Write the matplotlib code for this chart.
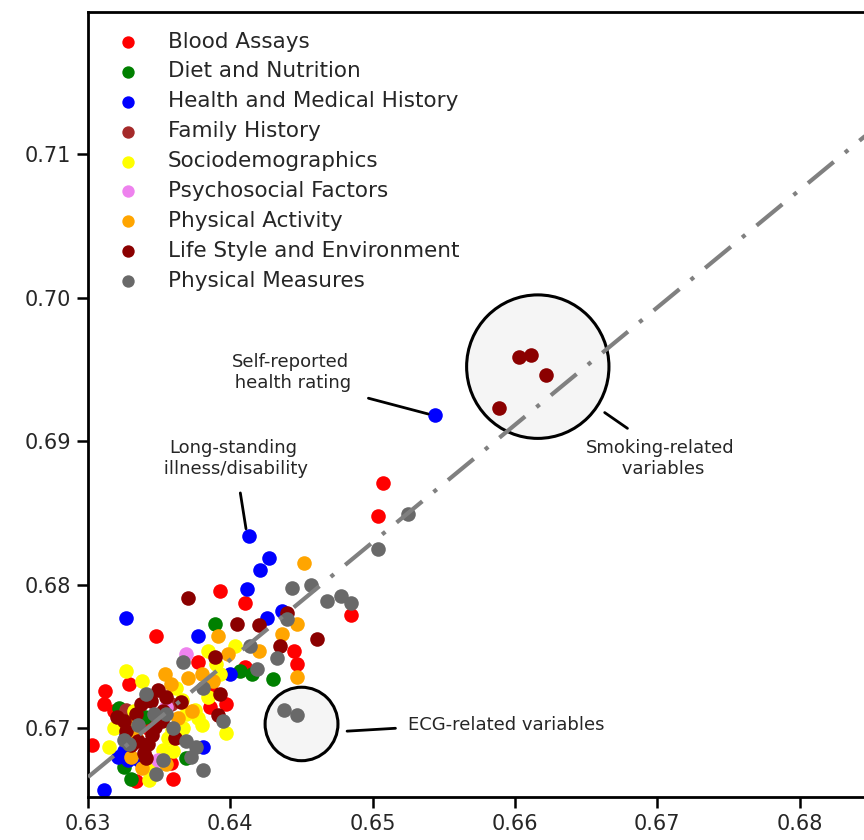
import matplotlib
matplotlib.use("Agg")
import matplotlib.pyplot as plt
from matplotlib.patches import Circle

# category -> (x values, y values)
blood_x = [0.6393, 0.6348, 0.6410, 0.6445, 0.6447, 0.6485, 0.6504, 0.6507, 0.6377, 0.6397,
           0.6386, 0.6312, 0.6311, 0.6329, 0.6303, 0.6334, 0.6410, 0.6358,
           0.6342, 0.6386, 0.6318, 0.6360]
blood_y = [0.6796, 0.6764, 0.6787, 0.6754, 0.6745, 0.6779, 0.6848, 0.6871, 0.6746, 0.6717,
           0.6715, 0.6726, 0.6717, 0.6731, 0.6688, 0.6663, 0.6743, 0.6676,
           0.6700, 0.6729, 0.6712, 0.6665]

diet_x = [0.6389, 0.6430, 0.6407, 0.6415, 0.6322, 0.6325, 0.6369, 0.6340, 0.6330]
diet_y = [0.6773, 0.6734, 0.6740, 0.6738, 0.6714, 0.6673, 0.6679, 0.6708, 0.6665]

health_x = [0.6544, 0.6413, 0.6427, 0.6421, 0.6412, 0.6426, 0.6436, 0.6327, 0.6377, 0.6400,
            0.6381, 0.6325, 0.6328, 0.6311, 0.6331, 0.6321, 0.6327, 0.6336]
health_y = [0.6918, 0.6834, 0.6819, 0.6810, 0.6797, 0.6777, 0.6782, 0.6777, 0.6764, 0.6738,
            0.6687, 0.6684, 0.6678, 0.6657, 0.6690, 0.6680, 0.6696, 0.6678]

family_x = [0.6327, 0.6358]
family_y = [0.6713, 0.6717]

socio_x = [0.6327, 0.6338, 0.6384, 0.6403, 0.6393, 0.6375, 0.6380, 0.6397, 0.6369, 0.6367,
           0.6315, 0.6353, 0.6360, 0.6359, 0.6377, 0.6342, 0.6343, 0.6366,
           0.6332, 0.6356, 0.6384, 0.6362, 0.6347, 0.6390, 0.6318]
socio_y = [0.6740, 0.6733, 0.6754, 0.6757, 0.6738, 0.6713, 0.6702, 0.6697, 0.6710, 0.6700,
           0.6687, 0.6685, 0.6684, 0.6699, 0.6707, 0.6673, 0.6664, 0.6720,
           0.6712, 0.6693, 0.6722, 0.6728, 0.6668, 0.6745, 0.6700]

psycho_x = [0.6369, 0.6349, 0.6355]
psycho_y = [0.6752, 0.6678, 0.6715]

activity_x = [0.6452, 0.6391, 0.6447, 0.6436, 0.6420, 0.6447, 0.6380, 0.6354, 0.6358, 0.6373,
              0.6363, 0.6338, 0.6388, 0.6334, 0.6329, 0.6343, 0.6370, 0.6355, 0.6330, 0.6398]
activity_y = [0.6815, 0.6764, 0.6773, 0.6766, 0.6754, 0.6736, 0.6738, 0.6738, 0.6731, 0.6712,
              0.6707, 0.6672, 0.6733, 0.6694, 0.6703, 0.6722, 0.6735, 0.6675, 0.6680, 0.6752]

life_x = [0.6603, 0.6611, 0.6622, 0.6589, 0.6370, 0.6405, 0.6420, 0.6440, 0.6461, 0.6435,
          0.6389, 0.6393, 0.6391, 0.6349, 0.6355, 0.6337, 0.6334, 0.6320, 0.6327, 0.6353,
          0.6361, 0.6339, 0.6342, 0.6335, 0.6344, 0.6347, 0.6341,
          0.6325, 0.6345, 0.6365, 0.6330, 0.6352]
life_y = [0.6959, 0.6960, 0.6946, 0.6923, 0.6791, 0.6773, 0.6772, 0.6780, 0.6762, 0.6757,
          0.6750, 0.6724, 0.6709, 0.6727, 0.6722, 0.6717, 0.6710, 0.6708, 0.6698, 0.6712,
          0.6693, 0.6683, 0.6689, 0.6691, 0.6719, 0.6701, 0.6679,
          0.6705, 0.6695, 0.6718, 0.6688, 0.6705]

measures_x = [0.6447, 0.6438, 0.6525, 0.6504, 0.6443, 0.6457, 0.6468, 0.6478, 0.6485, 0.6440,
              0.6433, 0.6419, 0.6414, 0.6367, 0.6381, 0.6341, 0.6346, 0.6329, 0.6369, 0.6376,
              0.6353, 0.6348, 0.6381, 0.6355, 0.6335, 0.6360, 0.6325, 0.6372, 0.6395]
measures_y = [0.6709, 0.6713, 0.6849, 0.6825, 0.6798, 0.6800, 0.6789, 0.6792, 0.6787, 0.6776,
              0.6749, 0.6741, 0.6757, 0.6746, 0.6728, 0.6724, 0.6710, 0.6689, 0.6691, 0.6687,
              0.6678, 0.6668, 0.6671, 0.6710, 0.6702, 0.6700, 0.6692, 0.6680, 0.6705]

groups = [
    ("Blood Assays", "red", blood_x, blood_y),
    ("Diet and Nutrition", "green", diet_x, diet_y),
    ("Health and Medical History", "blue", health_x, health_y),
    ("Family History", "brown", family_x, family_y),
    ("Sociodemographics", "yellow", socio_x, socio_y),
    ("Psychosocial Factors", "violet", psycho_x, psycho_y),
    ("Physical Activity", "orange", activity_x, activity_y),
    ("Life Style and Environment", "darkred", life_x, life_y),
    ("Physical Measures", "dimgray", measures_x, measures_y),
]

# fitted trend line end points
line_x = [0.6300, 0.6850]
line_y = [0.6666, 0.7116]

xticks = [0.63, 0.64, 0.65, 0.66, 0.67, 0.68]
yticks = [0.67, 0.68, 0.69, 0.70, 0.71]

txt = "#262626"

fig = plt.figure(figsize=(8.64, 8.4), dpi=100)
ax = fig.add_axes([0.1019, 0.051, 0.906, 0.9345])

ax.add_patch(Circle((0.6616, 0.6952), 0.0050, facecolor="#f5f5f5", edgecolor="black",
                    lw=2.2, zorder=1))
ax.add_patch(Circle((0.6450, 0.6703), 0.00256, facecolor="#f5f5f5", edgecolor="black",
                    lw=2.2, zorder=1))

for name, col, xs, ys in groups:
    ax.scatter(xs, ys, s=110, c=col, linewidths=0, label=name, zorder=2)

ln, = ax.plot(line_x, line_y, color="gray", lw=3, ls="-.", zorder=3)
ln.set_dashes([8, 3.5, 1, 3.5])

# annotations
seg = dict(arrowstyle="-", lw=2, color="black", shrinkA=0, shrinkB=0)
ax.annotate("", xy=(0.6539, 0.6919), xytext=(0.6497, 0.6930), arrowprops=seg)
ax.text(0.6442, 0.6948, "Self-reported\n health rating", ha="center", va="center",
        fontsize=13, color=txt)
ax.annotate("", xy=(0.6411, 0.6839), xytext=(0.6407, 0.6864), arrowprops=seg)
ax.text(0.6402, 0.6888, "Long-standing\n illness/disability", ha="center", va="center",
        fontsize=13, color=txt)
ax.annotate("", xy=(0.6679, 0.6909), xytext=(0.6663, 0.6920), arrowprops=seg)
ax.text(0.6702, 0.6888, "Smoking-related\n variables", ha="center", va="center",
        fontsize=13, color=txt)
ax.annotate("", xy=(0.6516, 0.6700), xytext=(0.6482, 0.6698), arrowprops=seg)
ax.text(0.6594, 0.6702, "ECG-related variables", ha="center", va="center",
        fontsize=13, color=txt)

ax.set_xlim(0.63, 0.685)
ax.set_ylim(0.6652, 0.7199)
ax.set_xticks(xticks)
ax.set_yticks(yticks)
ax.set_xticklabels([f"{v:.2f}" for v in xticks])
ax.set_yticklabels([f"{v:.2f}" for v in yticks])
ax.tick_params(direction="out", length=8, width=1.8, labelsize=15, labelcolor=txt, pad=4)
for sp in ax.spines.values():
    sp.set_linewidth(2)

ax.legend(loc="upper left", frameon=False, fontsize=15.5, markerscale=0.85,
          handlelength=1.92, handletextpad=0.9, labelspacing=0.46, labelcolor=txt,
          borderaxespad=0.5)

fig.savefig("out.png", dpi=100)
